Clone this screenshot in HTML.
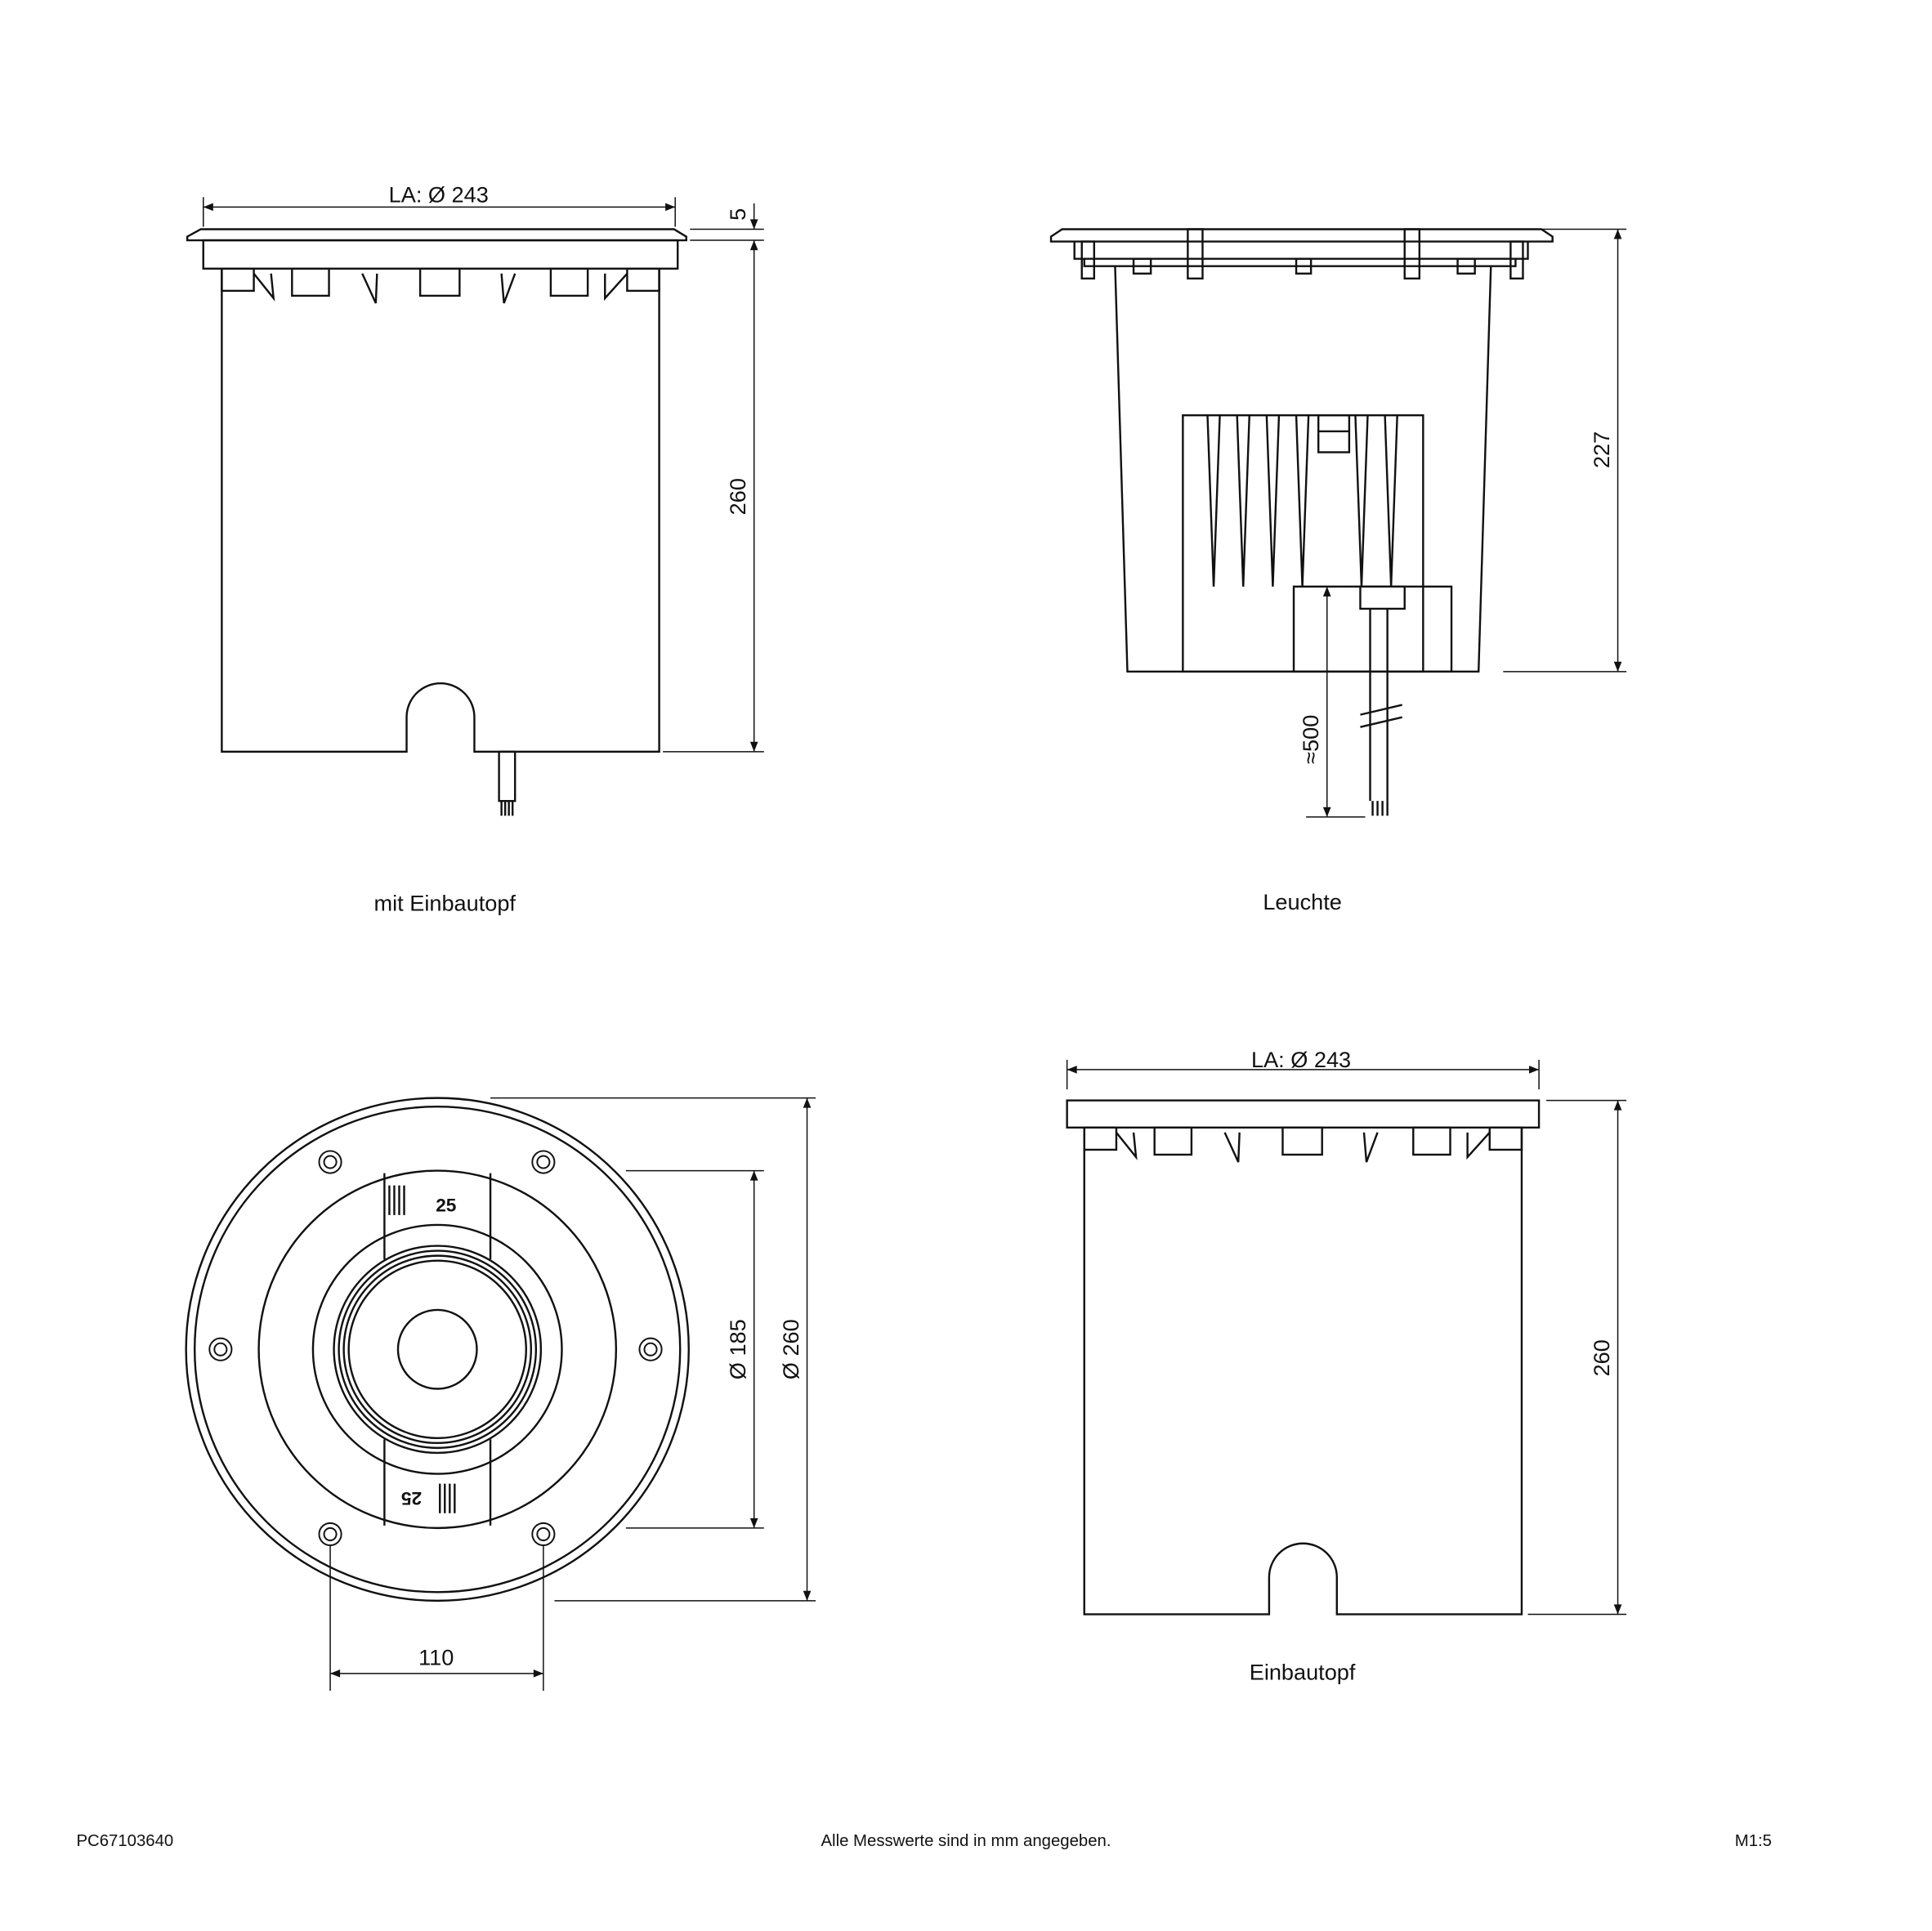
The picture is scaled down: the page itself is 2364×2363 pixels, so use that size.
<!DOCTYPE html>
<html><head><meta charset="utf-8"><style>
html,body{margin:0;padding:0;background:#fff}
svg{display:block}
text{font-family:"Liberation Sans",sans-serif;fill:#111}
</style></head><body>
<svg width="2364" height="2363" viewBox="0 0 1568 1567" preserveAspectRatio="none" xmlns="http://www.w3.org/2000/svg">
<defs>
<marker id="a" viewBox="0 0 10 10" refX="10" refY="5" markerWidth="10" markerHeight="8" orient="auto-start-reverse" markerUnits="userSpaceOnUse"><path d="M0,1 L10,5 L0,9 z" fill="#111"/></marker>
</defs>
<g fill="none" stroke="#111" stroke-width="1.6">
<path d="M163,186 L547,186 L557,192 L557,195 L152,195 L152,192 Z"/>
<rect x="165" y="195" width="385" height="23"/>
<path d="M180,218 L180,610 L330,610 L330,582 A27,27 0 0 1 385,582 L385,610 L535,610 L535,218"/>
<rect x="180" y="218" width="26" height="18"/><rect x="237" y="218" width="30" height="22"/><rect x="341" y="218" width="32" height="22"/><rect x="447" y="218" width="30" height="22"/><rect x="509" y="218" width="26" height="18"/>
<path d="M206,222 L222,242 L220,222"/><path d="M294,222 L305,246 L306,222"/><path d="M407,222 L409,246 L418,222"/><path d="M491,222 L491,242 L509,222"/>
<rect x="405" y="610" width="13" height="40"/>
<path d="M407,650 v12 M410,650 v12 M413,650 v12 M416,650 v12"/>
<path d="M862,186 L1251,186 L1260,192 L1260,196 L853,196 L853,192 Z"/>
<path d="M872,196 L872,210 L1240,210 L1240,196"/><path d="M880,210 L880,216 L1230,216 L1230,210"/>
<rect x="878" y="196" width="10" height="30"/><rect x="964" y="186" width="12" height="40"/><rect x="1140" y="186" width="12" height="40"/><rect x="1226" y="196" width="10" height="30"/>
<rect x="920" y="210" width="14" height="12"/><rect x="1052" y="210" width="12" height="12"/><rect x="1183" y="210" width="14" height="12"/>
<path d="M905,216 L915,545 L1200,545 L1210,216"/>
<rect x="960" y="337" width="195" height="208"/>
<rect x="1050" y="476" width="128" height="69"/>
<path d="M980,337 L985,476 L990,337 M1004,337 L1009,476 L1014,337 M1028,337 L1033,476 L1038,337 M1052,337 L1057,476 L1062,337 M1100,337 L1105,476 L1110,337 M1124,337 L1129,476 L1134,337"/>
<rect x="1070" y="337" width="25" height="30"/><path d="M1070,350 h25"/>
<rect x="1104" y="476" width="36" height="18"/>
<path d="M1112,494 L1112,650 M1126,494 L1126,650"/>
<path d="M1104,580 L1138,572 M1104,590 L1138,582"/>
<path d="M1114,650 v12 M1118,650 v12 M1122,650 v12 M1126,650 v12"/>
<circle cx="355" cy="1095" r="204"/><circle cx="355" cy="1095" r="197"/>
<circle cx="355" cy="1095" r="145"/><circle cx="355" cy="1095" r="101"/>
<circle cx="355" cy="1095" r="84"/><circle cx="355" cy="1095" r="80"/><circle cx="355" cy="1095" r="76"/><circle cx="355" cy="1095" r="72"/>
<circle cx="355" cy="1095" r="32"/>
<path d="M312,952 L312,1022 M398,952 L398,1022 M312,1168 L312,1238 M398,1168 L398,1238"/>
<path d="M316,962 v24 M320,962 v24 M324,962 v24 M328,962 v24 M357,1204 v24 M361,1204 v24 M365,1204 v24 M369,1204 v24"/>
<g stroke-width="1.3">
<circle cx="268" cy="943" r="9"/><circle cx="268" cy="943" r="5"/>
<circle cx="441" cy="943" r="9"/><circle cx="441" cy="943" r="5"/>
<circle cx="179" cy="1095" r="9"/><circle cx="179" cy="1095" r="5"/>
<circle cx="528" cy="1095" r="9"/><circle cx="528" cy="1095" r="5"/>
<circle cx="268" cy="1245" r="9"/><circle cx="268" cy="1245" r="5"/>
<circle cx="441" cy="1245" r="9"/><circle cx="441" cy="1245" r="5"/>
</g>
<rect x="866" y="893" width="383" height="22"/>
<path d="M880,915 L880,1310 L1030,1310 L1030,1280 A27.5,27.5 0 0 1 1085,1280 L1085,1310 L1235,1310 L1235,915"/>
<rect x="880" y="915" width="26" height="18"/><rect x="937" y="915" width="30" height="22"/><rect x="1041" y="915" width="32" height="22"/><rect x="1147" y="915" width="30" height="22"/><rect x="1209" y="915" width="26" height="18"/>
<path d="M906,919 L922,939 L920,919"/><path d="M994,919 L1005,943 L1006,919"/><path d="M1107,919 L1109,943 L1118,919"/><path d="M1191,919 L1191,939 L1209,919"/>
</g>
<g stroke="#111" stroke-width="1" fill="none">
<line x1="165" y1="168" x2="548" y2="168" marker-start="url(#a)" marker-end="url(#a)"/>
<line x1="165" y1="160" x2="165" y2="184"/><line x1="548" y1="160" x2="548" y2="184"/>
<line x1="560" y1="186" x2="620" y2="186"/><line x1="560" y1="195" x2="620" y2="195"/>
<line x1="612" y1="165" x2="612" y2="186" marker-end="url(#a)"/>
<line x1="612" y1="195" x2="612" y2="610" marker-start="url(#a)" marker-end="url(#a)"/>
<line x1="538" y1="610" x2="620" y2="610"/>
<line x1="1215" y1="186" x2="1320" y2="186"/><line x1="1220" y1="545" x2="1320" y2="545"/>
<line x1="1313" y1="186" x2="1313" y2="545" marker-start="url(#a)" marker-end="url(#a)"/>
<line x1="1060" y1="476" x2="1085" y2="476"/><line x1="1060" y1="663" x2="1108" y2="663"/>
<line x1="1077" y1="476" x2="1077" y2="663" marker-start="url(#a)" marker-end="url(#a)"/>
<line x1="398" y1="891" x2="662" y2="891"/><line x1="450" y1="1299" x2="662" y2="1299"/>
<line x1="655" y1="891" x2="655" y2="1299" marker-start="url(#a)" marker-end="url(#a)"/>
<line x1="508" y1="950" x2="620" y2="950"/><line x1="508" y1="1240" x2="620" y2="1240"/>
<line x1="612" y1="950" x2="612" y2="1240" marker-start="url(#a)" marker-end="url(#a)"/>
<line x1="268" y1="1254" x2="268" y2="1372"/><line x1="441" y1="1254" x2="441" y2="1372"/>
<line x1="268" y1="1358" x2="441" y2="1358" marker-start="url(#a)" marker-end="url(#a)"/>
<line x1="866" y1="868" x2="1249" y2="868" marker-start="url(#a)" marker-end="url(#a)"/>
<line x1="866" y1="860" x2="866" y2="884"/><line x1="1249" y1="860" x2="1249" y2="884"/>
<line x1="1255" y1="893" x2="1320" y2="893"/><line x1="1240" y1="1310" x2="1320" y2="1310"/>
<line x1="1313" y1="893" x2="1313" y2="1310" marker-start="url(#a)" marker-end="url(#a)"/>
</g>
<g font-size="18">
<text x="356" y="164" text-anchor="middle">LA: Ø 243</text>
<text x="1056" y="866" text-anchor="middle">LA: Ø 243</text>
<text transform="translate(605,174) rotate(-90)" text-anchor="middle">5</text>
<text transform="translate(605,403) rotate(-90)" text-anchor="middle">260</text>
<text transform="translate(1306,365) rotate(-90)" text-anchor="middle">227</text>
<text transform="translate(1070,600) rotate(-90)" text-anchor="middle">≈500</text>
<text transform="translate(605,1095) rotate(-90)" text-anchor="middle">Ø 185</text>
<text transform="translate(648,1095) rotate(-90)" text-anchor="middle">Ø 260</text>
<text transform="translate(1306,1102) rotate(-90)" text-anchor="middle">260</text>
<text x="354" y="1351" text-anchor="middle">110</text>
<text x="361" y="739" text-anchor="middle">mit Einbautopf</text>
<text x="1057" y="738" text-anchor="middle">Leuchte</text>
<text x="1057" y="1363" text-anchor="middle">Einbautopf</text>
</g>
<text x="362" y="983" font-size="15" font-weight="bold" text-anchor="middle">25</text>
<text transform="translate(334,1211) rotate(180)" font-size="15" font-weight="bold" text-anchor="middle">25</text>
<g font-size="13.5">
<text x="62" y="1498">PC67103640</text>
<text x="784" y="1498" text-anchor="middle">Alle Messwerte sind in mm angegeben.</text>
<text x="1408" y="1498">M1:5</text>
</g>
</svg>
</body></html>
